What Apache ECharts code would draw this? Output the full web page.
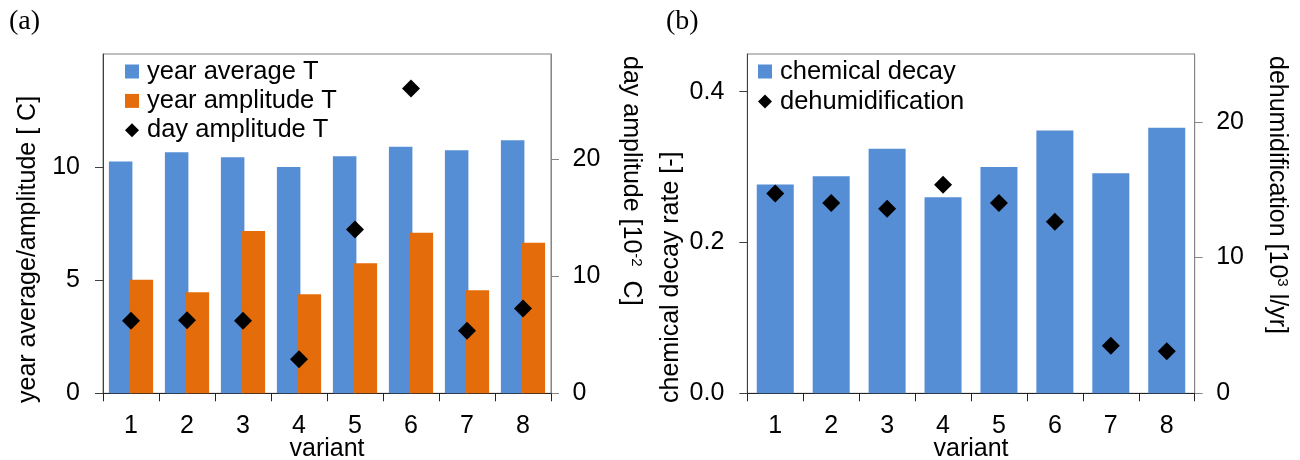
<!DOCTYPE html>
<html>
<head>
<meta charset="utf-8">
<script src="https://cdn.jsdelivr.net/npm/echarts@6/dist/echarts.min.js"></script>
<style>
html,body{margin:0;padding:0;background:#fff;}
#chart{width:1300px;height:460px;}
</style>
</head>
<body>
<div id="chart"></div>
<script>
// ---- data ----
var categories = ['1', '2', '3', '4', '5', '6', '7', '8'];
var yearAverageT = [10.25, 10.66, 10.44, 10.0, 10.48, 10.90, 10.75, 11.19];
var yearAmplitudeT = [5.02, 4.47, 7.18, 4.38, 5.75, 7.10, 4.56, 6.66];
var dayAmplitudeT = [6.2, 6.25, 6.2, 2.9, 14.0, 26.05, 5.35, 7.25];
var chemicalDecay = [0.277, 0.288, 0.3245, 0.260, 0.300, 0.3487, 0.292, 0.3523];
var dehumidification = [14.73, 14.02, 13.6, 15.37, 14.02, 12.64, 3.51, 3.10];
var ticksLeftA = [0, 5, 10];
var ticksRightA = [0, 10, 20];
var ticksLeftB = [0, 0.2, 0.4];
var ticksRightB = [0, 10, 20];

var FONT = "'Liberation Sans', Arial, sans-serif";
var SERIF = "'Liberation Serif', 'Times New Roman', serif";
var BLUE = '#558ED5';
var ORANGE = '#E46C0A';

function xAxisCfg(gridIndex) {
  return {
    type: 'category', gridIndex: gridIndex, data: categories,
    name: 'variant', nameLocation: 'middle', nameGap: 43, nameMoveOverlap: false,
    nameTextStyle: {fontFamily: FONT, fontSize: 25, color: '#000'},
    axisLine: {lineStyle: {color: '#222', width: 1}},
    axisTick: {show: true, interval: 0, length: 8, lineStyle: {color: '#222'}},
    axisLabel: {fontFamily: FONT, fontSize: 25, color: '#000', margin: 20, interval: 0}
  };
}
function yAxisCfg(gridIndex, pos, max, interval, ticks, lineColor, margin, fmt) {
  return {
    type: 'value', gridIndex: gridIndex, position: pos, min: 0, max: max, interval: interval,
    splitLine: {show: false},
    axisLine: {show: true, lineStyle: {color: lineColor, width: 1}},
    axisTick: {show: true, length: 8, customValues: ticks, lineStyle: {color: lineColor}},
    axisLabel: {fontFamily: FONT, fontSize: 25, color: '#000', margin: margin, customValues: ticks,
      formatter: fmt || function (v) { return String(v); }}
  };
}
function rotTitle(x, y, rot, text, align) {
  return {
    type: 'text', x: x, y: y, rotation: rot,
    style: {
      text: text,
      align: align, verticalAlign: 'middle',
      textAlign: align, textVerticalAlign: 'middle',
      fill: '#000',
      rich: {
        n: {fontFamily: FONT, fontSize: 25, fill: '#000', color: '#000'},
        s: {fontFamily: FONT, fontSize: 15, fill: '#000', color: '#000', verticalAlign: 'top'}
      }
    }
  };
}

var chart = echarts.init(document.getElementById('chart'), null, {renderer: 'canvas'});
chart.setOption({
  animation: false,
  backgroundColor: '#fff',
  grid: [
    {left: 103, top: 54, width: 448, height: 339.3, show: true, borderColor: '#7f7f7f', borderWidth: 1,
      containLabel: false, outerBoundsMode: 'none'},
    {left: 747.3, top: 54, width: 447.4, height: 339.3, show: true, borderColor: '#7f7f7f', borderWidth: 1,
      containLabel: false, outerBoundsMode: 'none'}
  ],
  legend: [
    {
      orient: 'vertical', left: 120, top: 53.5, itemWidth: 14, itemHeight: 14, itemGap: 3.4,
      textStyle: {fontFamily: FONT, fontSize: 25.5, color: '#000', lineHeight: 25, padding: [0, 0, 0, 3]},
      data: [{name: 'year average T', icon: 'rect'}, {name: 'year amplitude T', icon: 'rect'}, {name: 'day amplitude T', icon: 'diamond'}]
    },
    {
      orient: 'vertical', left: 753, top: 53.5, itemWidth: 14, itemHeight: 14, itemGap: 4,
      textStyle: {fontFamily: FONT, fontSize: 25.5, color: '#000', lineHeight: 25, padding: [0, 0, 0, 3]},
      data: [{name: 'chemical decay', icon: 'rect'}, {name: 'dehumidification', icon: 'diamond'}]
    }
  ],
  xAxis: [xAxisCfg(0), xAxisCfg(1)],
  yAxis: [
    yAxisCfg(0, 'left', 15, 5, ticksLeftA, '#404040', 23),
    yAxisCfg(0, 'right', 29, 10, ticksRightA, '#868686', 21.5),
    yAxisCfg(1, 'left', 0.45, 0.2, ticksLeftB, '#404040', 23, function (v) { return v.toFixed(1); }),
    yAxisCfg(1, 'right', 25, 10, ticksRightB, '#868686', 21.5)
  ],
  series: [
    {name: 'year average T', type: 'bar', xAxisIndex: 0, yAxisIndex: 0, data: yearAverageT,
      barWidth: 23.5, barGap: '-12%', itemStyle: {color: BLUE}},
    {name: 'year amplitude T', type: 'bar', xAxisIndex: 0, yAxisIndex: 0, data: yearAmplitudeT,
      barWidth: 23.5, barGap: '-12%', itemStyle: {color: ORANGE}},
    {name: 'day amplitude T', type: 'scatter', xAxisIndex: 0, yAxisIndex: 1, data: dayAmplitudeT,
      symbol: 'diamond', symbolSize: 18, itemStyle: {color: '#000', opacity: 1}},
    {name: 'chemical decay', type: 'bar', xAxisIndex: 1, yAxisIndex: 2, data: chemicalDecay,
      barWidth: 37, itemStyle: {color: BLUE}},
    {name: 'dehumidification', type: 'scatter', xAxisIndex: 1, yAxisIndex: 3, data: dehumidification,
      symbol: 'diamond', symbolSize: 18, itemStyle: {color: '#000', opacity: 1}}
  ],
  graphic: [
    {type: 'text', x: 9, y: 21.5, style: {text: '(a)', font: '28px ' + SERIF, fill: '#000',
      verticalAlign: 'middle', textVerticalAlign: 'middle'}},
    {type: 'text', x: 666, y: 21.5, style: {text: '(b)', font: '28px ' + SERIF, fill: '#000',
      verticalAlign: 'middle', textVerticalAlign: 'middle'}},
    rotTitle(28, 403, Math.PI / 2, '{n|year average/amplitude [ C]}', 'left'),
    rotTitle(631, 56, -Math.PI / 2, '{n|day amplitude [10}{s|-2}{n|  C]}', 'left'),
    rotTitle(671.5, 403, Math.PI / 2, '{n|chemical decay rate [-]}', 'left'),
    rotTitle(1277, 56, -Math.PI / 2, '{n|dehumidification [10}{s|3}{n| l/yr]}', 'left')
  ]
});
</script>
</body>
</html>
